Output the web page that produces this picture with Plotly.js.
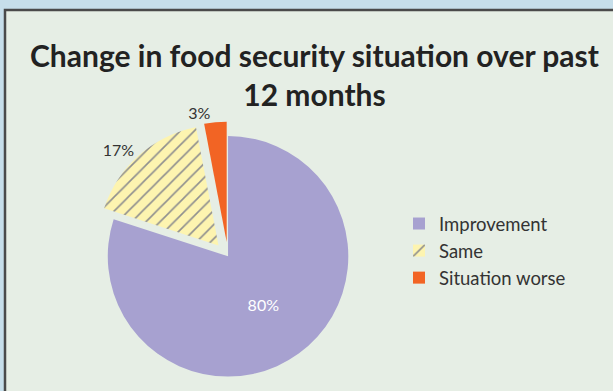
<!DOCTYPE html>
<html>
<head>
<meta charset="utf-8">
<script src="https://cdn.plot.ly/plotly-3.0.1.min.js"></script>
<style>html,body{margin:0;padding:0;background:#c6deea;}#chart{width:613px;height:391px;}</style>
</head>
<body>
<div id="chart"></div>
<script>
const categories = ["Improvement", "Same", "Situation worse"];
const shares = [80, 17, 3];
const sliceColors = ["#a7a1d0", "#fdf4b0", "#f26424"];
const slicePull = [0, 0.12, 0.12];
const labelPositions = ["inside", "outside", "outside"];
const labelColors = ["#ffffff", "#333333", "#333333"];
const patternShapes = ["", "/", ""];

const trace = {
  type: "pie",
  labels: categories,
  values: shares,
  sort: false,
  direction: "clockwise",
  rotation: 0,
  pull: slicePull,
  textinfo: "percent",
  texttemplate: "%{percent:.0%}",
  textposition: labelPositions,
  textfont: {family: "Lato, 'Open Sans', sans-serif", size: 16, color: labelColors},
  marker: {
    colors: sliceColors,
    line: {color: "#5a5a5a", width: 0},
    pattern: {shape: patternShapes, fgcolor: "#8f8f8f", bgcolor: sliceColors, size: 10, solidity: 0.16, fillmode: "replace"}
  },
  domain: {x: [0.151, 0.593], y: [0, 0.689]},
  hoverinfo: "label+percent"
};

const layout = {
  width: 613,
  height: 391,
  margin: {l: 0, r: 0, t: 0, b: 0},
  paper_bgcolor: "#c6deea",
  showlegend: true,
  title: {
    text: "<b>Change in food security situation over past<br>12 months</b>",
    font: {family: "Lato, 'Open Sans', sans-serif", size: 30, color: "#222222"},
    x: 0.513, xanchor: "center", xref: "paper",
    y: 1 - 67/391, yanchor: "top", yref: "container"
  },
  legend: {
    x: 399/613, xanchor: "left",
    y: 1 - 251/391, yanchor: "middle",
    font: {family: "Lato, 'Open Sans', sans-serif", size: 18.5, color: "#333333"},
    bgcolor: "rgba(0,0,0,0)",
    itemwidth: 30
  },
  shapes: [{
    type: "rect", xref: "paper", yref: "paper", layer: "below",
    x0: 5/613, x1: 1.05, y0: -0.05, y1: 1 - 10/391,
    fillcolor: "#e6eee5",
    line: {color: "#4a4a4a", width: 2.5}
  }]
};

Plotly.newPlot("chart", [trace], layout, {displayModeBar: false, staticPlot: true});
</script>
</body>
</html>
